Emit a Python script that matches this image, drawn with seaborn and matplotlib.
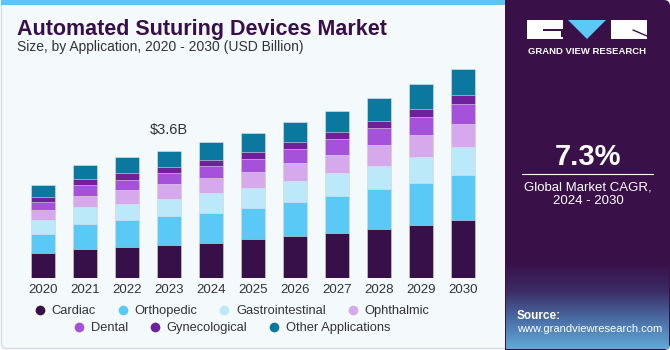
import numpy as np
import pandas as pd
import seaborn as sns
import matplotlib.pyplot as plt
from matplotlib.patches import Rectangle, FancyBboxPatch, Polygon
from matplotlib.lines import Line2D
from matplotlib.colors import LinearSegmentedColormap

# Data (USD Billion)
years = ['2020', '2021', '2022', '2023', '2024', '2025', '2026', '2027', '2028', '2029', '2030']
cardiac = [0.70, 0.81, 0.88, 0.94, 1.00, 1.10, 1.18, 1.27, 1.39, 1.50, 1.65]
orthopedic = [0.55, 0.72, 0.76, 0.80, 0.84, 0.89, 0.98, 1.05, 1.12, 1.20, 1.27]
gastrointestinal = [0.40, 0.47, 0.46, 0.50, 0.55, 0.56, 0.59, 0.64, 0.67, 0.73, 0.78]
ophthalmic = [0.26, 0.32, 0.39, 0.42, 0.44, 0.44, 0.49, 0.52, 0.57, 0.60, 0.65]
dental = [0.24, 0.31, 0.28, 0.30, 0.34, 0.38, 0.42, 0.45, 0.49, 0.53, 0.58]
gynecological = [0.13, 0.17, 0.20, 0.17, 0.18, 0.20, 0.19, 0.20, 0.21, 0.23, 0.25]
other_apps = [0.36, 0.40, 0.44, 0.47, 0.49, 0.52, 0.55, 0.60, 0.63, 0.70, 0.72]

segments = ['Cardiac', 'Orthopedic', 'Gastrointestinal', 'Ophthalmic',
            'Dental', 'Gynecological', 'Other Applications']
colors = ['#37104a', '#5bc9f6', '#bce9f9', '#d6a9ed', '#a651d9', '#71209c', '#0b789f']
annot_year = '2023'
annot_text = '$3.6B'
cagr = '7.3%'

df = pd.DataFrame({'year': years, 'Cardiac': cardiac, 'Orthopedic': orthopedic,
                   'Gastrointestinal': gastrointestinal, 'Ophthalmic': ophthalmic,
                   'Dental': dental, 'Gynecological': gynecological,
                   'Other Applications': other_apps})
cum = df[segments].cumsum(axis=1)

sns.set_style('white')
plt.rcParams['font.family'] = ['Liberation Sans', 'DejaVu Sans']

W, H = 670, 350
fig = plt.figure(figsize=(W / 100, H / 100), dpi=100)
fig.patch.set_facecolor('white')

# background panels drawn in pixel coordinates
bg = fig.add_axes([0, 0, 1, 1], zorder=-5)
bg.set_xlim(0, W)
bg.set_ylim(H, 0)
bg.axis('off')
bg.add_patch(FancyBboxPatch((1.5, 1.5), 510, 347, boxstyle='round,pad=0,rounding_size=5',
                            facecolor='#f4f9fc', edgecolor='#d5dbe0', lw=1))
bg.add_patch(Rectangle((1, 0), 510, 5, facecolor='#5cc6ef', edgecolor='none'))
bg.add_patch(FancyBboxPatch((505, 0), 165, 350, boxstyle='round,pad=0,rounding_size=6',
                            facecolor='#3a1049', edgecolor='none'))
bg.add_patch(Rectangle((505, 0), 10, 350, facecolor='#3a1049', edgecolor='none'))
grad = LinearSegmentedColormap.from_list('g', ['#3a1049', '#3b2c66', '#4a6fa6', '#62a9d8'])
bg.imshow(np.linspace(0, 1, 100).reshape(-1, 1), cmap=grad, aspect='auto',
          extent=(506, 669, 349, 262), zorder=1)

# logo
bg.add_patch(Rectangle((527, 20), 36, 19, facecolor='white', edgecolor='none', zorder=2))
bg.add_patch(Rectangle((543, 29), 20, 2, facecolor='#3a1049', edgecolor='none', zorder=3))
bg.add_patch(Rectangle((561, 29), 2, 8, facecolor='#3a1049', edgecolor='none', zorder=3))
bg.add_patch(Polygon([(568, 20), (606, 20), (587, 39)], closed=True,
                     facecolor='#5bc9f6', edgecolor='none', zorder=2))
bg.add_patch(Rectangle((611, 20), 36, 19, facecolor='white', edgecolor='none', zorder=2))
bg.plot([633, 647], [30, 36], color='#3a1049', lw=1, zorder=3)
bg.text(587, 51, 'GRAND VIEW RESEARCH', color='white', fontsize=6.8, fontweight='bold',
        ha='center', va='center', zorder=3)

bg.text(588, 157, cagr, color='white', fontsize=21, fontweight='bold',
        ha='center', va='center', zorder=3)
bg.plot([522, 653], [173.5, 173.5], color='white', lw=0.8, zorder=3)
bg.text(588, 187, 'Global Market CAGR,', color='white', fontsize=9.5,
        ha='center', va='center', zorder=3)
bg.text(588, 201, '2024 - 2030', color='white', fontsize=9.5,
        ha='center', va='center', zorder=3)
bg.text(517, 316, 'Source:', color='white', fontsize=8.5, fontweight='bold',
        ha='left', va='center', zorder=3)
bg.text(517, 329, 'www.grandviewresearch.com', color='white', fontsize=8,
        ha='left', va='center', zorder=3)

# titles
bg.text(17, 29, 'Automated Suturing Devices Market', color='#37104a', fontsize=15.5,
        fontweight='bold', ha='left', va='center')
bg.text(17, 47, 'Size, by Application, 2020 - 2030 (USD Billion)', color='#333333',
        fontsize=10, ha='left', va='center')

# main chart: baseline at y=278 px, 3.6B over 127.3 px
base_px, top_px = 278, 60
scale = 3.6 / 127.3
ax = fig.add_axes([22 / W, (H - base_px) / H, 462 / W, (base_px - top_px) / H])
ax.set_facecolor('none')
for i in range(len(segments) - 1, -1, -1):
    sns.barplot(x=df['year'], y=cum[segments[i]], color=colors[i], saturation=1,
                width=0.58, ax=ax, edgecolor='#dfe3ea', linewidth=0.4)
ax.set_ylim(0, (base_px - top_px) * scale)
ax.set_xlim(-0.5, len(years) - 0.5)
ax.set_xlabel('')
ax.set_ylabel('')
ax.set_yticks([])
ax.tick_params(axis='x', length=0, pad=4, labelsize=9.5, labelcolor='#333333')
sns.despine(ax=ax, left=True, bottom=True)

i_ann = years.index(annot_year)
ax.text(i_ann, cum['Other Applications'][i_ann] + 0.4, annot_text, ha='center',
        va='bottom', fontsize=10.5, color='#333333')

# legend in two centred rows
def handle(c):
    return Line2D([], [], marker='o', linestyle='none', markersize=7,
                  markerfacecolor=c, markeredgecolor='none')

leg_kw = dict(frameon=False, fontsize=9.3, handlelength=0.8, handletextpad=0.5,
              columnspacing=1.7, loc='center', borderaxespad=0, borderpad=0)
leg1 = fig.legend([handle(c) for c in colors[:4]], segments[:4], ncol=4,
                  bbox_to_anchor=(232 / W, 1 - 311 / H), **leg_kw)
leg2 = fig.legend([handle(c) for c in colors[4:]], segments[4:], ncol=3,
                  bbox_to_anchor=(232 / W, 1 - 328 / H), **leg_kw)
for lg in (leg1, leg2):
    for t in lg.get_texts():
        t.set_color('#333333')

fig.savefig('out.png', dpi=100, facecolor='white')
